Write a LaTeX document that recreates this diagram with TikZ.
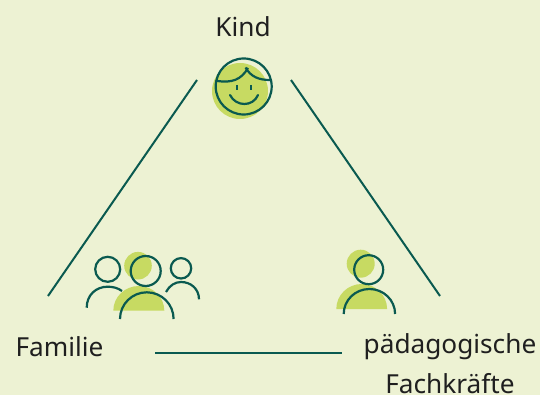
\documentclass[tikz,border=0pt]{standalone}
\usepackage{fontspec}
\setmainfont{Noto Sans}
\definecolor{bgc}{HTML}{EDF2D3}
\definecolor{lime}{HTML}{C7DA62}
\definecolor{dark}{HTML}{0A5A50}
\tikzset{
  link/.style={draw=dark,line width=2pt},
  ink/.style={draw=dark,line width=2.2pt},
  blob/.style={fill=lime,draw=none},
  lab/.style={font=\fontsize{26.2}{30}\selectfont,text=black!88,inner sep=0pt,anchor=base}
}
\begin{document}
\begin{tikzpicture}[x=1pt,y=-1pt]
\useasboundingbox[fill=bgc] (0,0) rectangle (540,395);
% labels
\node[lab] (kind) at (243,37) {Kind};
\node[lab] (fam) at (59.5,356) {Familie};
\node[lab] (pae) at (450,353) {pädagogische};
\node[lab] (fach) at (450,393) {Fachkräfte};
% connectors
\coordinate (a1) at (197,80); \coordinate (a2) at (48,296);
\coordinate (b1) at (291,80); \coordinate (b2) at (440,296);
\coordinate (c1) at (155,352.5); \coordinate (c2) at (342,352.5);
\draw[link] (a1) -- (a2);
\draw[link] (b1) -- (b2);
\draw[link] (c1) -- (c2);
% child
\fill[blob] (240,91) circle (28);
\draw[ink] (243.7,86.5) circle (28);
\draw[ink] (217,81) .. controls (232,83) and (241,80) .. (248,68);
\draw[ink] (245.5,67.5) .. controls (251,77) and (259,80) .. (270,80);
\draw[ink,line width=1.9pt] (236.7,85) -- (236.7,90);
\draw[ink,line width=1.9pt] (251,85) -- (251,90);
\draw[ink,line cap=round] (230,95) .. controls (236,107) and (253,107) .. (258,95);
% family
\fill[blob] (138,265.7) circle (13.8);
\fill[blob] (113.3,310.7) arc[start angle=180,end angle=360,x radius=25.5,y radius=24.7] -- cycle;
\draw[ink] (145.7,271) circle (15);
\draw[ink] (120,319) arc[start angle=180,end angle=360,x radius=26.8,y radius=26.7];
\draw[ink] (107.7,269.3) circle (12.5);
\draw[ink] (86.7,307.7) .. controls (86.7,295) and (96,286.7) .. (107.7,286.7) .. controls (113,286.7) and (118,288) .. (122,291);
\draw[ink] (181,268.3) circle (10.2);
\draw[ink] (166,292) .. controls (169.5,285.5) and (175,282) .. (181,282) .. controls (191,282) and (199,289) .. (199,299.3);
% professional
\fill[blob] (360.7,263.7) circle (14);
\fill[blob] (336.3,309) arc[start angle=180,end angle=360,x radius=25.4,y radius=25] -- cycle;
\draw[ink] (368.7,269.7) circle (14.5);
\draw[ink] (343.7,314) arc[start angle=180,end angle=360,x radius=25.7,y radius=25];
\end{tikzpicture}
\end{document}
